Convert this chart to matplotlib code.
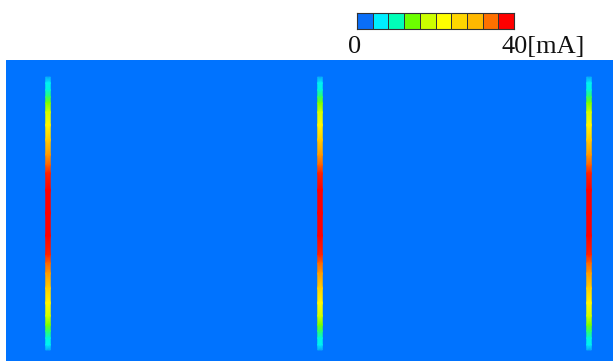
import numpy as np
import matplotlib
matplotlib.use("Agg")
import matplotlib.pyplot as plt
from matplotlib.colors import LinearSegmentedColormap, ListedColormap, BoundaryNorm, Normalize

# colour scale (10 levels, 0..40 mA)
level_colors = ["#0A6EF8", "#00EEFF", "#00FFB8", "#6CFF00", "#CCFF00",
                "#FFFF00", "#FFD600", "#FFB800", "#FF7000", "#FF0000"]
vmin, vmax = 0, 40
unit_label = "[mA]"

# field size (in pixel-like units) and three current lines
field_w, field_h = 607, 301
line_x = [42, 314, 583]
# current profile along each line: position from top of field, current in mA
profile_y = [17, 23, 30, 37, 43, 52, 65, 80, 95, 105, 113, 130, 153,
             176, 195, 203, 213, 228, 243, 256, 265, 271, 278, 285, 290]
profile_val = [2, 5, 7, 11, 14, 18, 23, 28, 33, 36, 38.5, 40, 40,
               40, 38.5, 36, 33, 28, 23, 18, 14, 11, 7, 5, 2]
line_width = 4.5

cmap = LinearSegmentedColormap.from_list("cur", level_colors)
norm = Normalize(vmin, vmax)

fig = plt.figure(figsize=(6.13, 3.61), dpi=100)

ax = fig.add_axes([6/613, 0, 607/613, 301/361])
ax.set_xlim(0, field_w)
ax.set_ylim(field_h, 0)
ax.axis("off")
ax.add_patch(plt.Rectangle((0, 0), field_w, field_h, color="#0073FF", zorder=0))

Y = np.array(profile_y, dtype=float)
V = np.array(profile_val, dtype=float)
for xc in line_x:
    X = np.array([xc - line_width/2, xc + line_width/2])
    XX, YY = np.meshgrid(X, Y)
    CC = np.column_stack([V, V])
    ax.pcolormesh(XX, YY, CC, cmap=cmap, norm=norm, shading="gouraud", zorder=2)

# colorbar
cax = fig.add_axes([357/613, (361-29)/361, 157/613, 16/361])
dcmap = ListedColormap(level_colors)
bounds = np.linspace(vmin, vmax, len(level_colors) + 1)
cax.pcolormesh(bounds, [0, 1], bounds[:-1].reshape(1, -1) + 0.5 * (bounds[1] - bounds[0]),
               cmap=dcmap, norm=BoundaryNorm(bounds, dcmap.N),
               edgecolor="#333333", linewidth=0.5)
cax.set_xlim(vmin, vmax)
cax.set_ylim(0, 1)
cax.set_xticks([])
cax.set_yticks([])
for s in cax.spines.values():
    s.set_linewidth(0.8)
    s.set_color("#333333")

serif = "Liberation Serif"
fig.text(355/613, 1 - 53/361, str(vmin), family=serif, fontsize=19,
         ha="center", va="baseline", color="#111111")
fig.text(502/613, 1 - 53/361, f"{vmax}{unit_label}", family=serif, fontsize=19,
         ha="left", va="baseline", color="#111111")

fig.savefig("out.png", dpi=100)
